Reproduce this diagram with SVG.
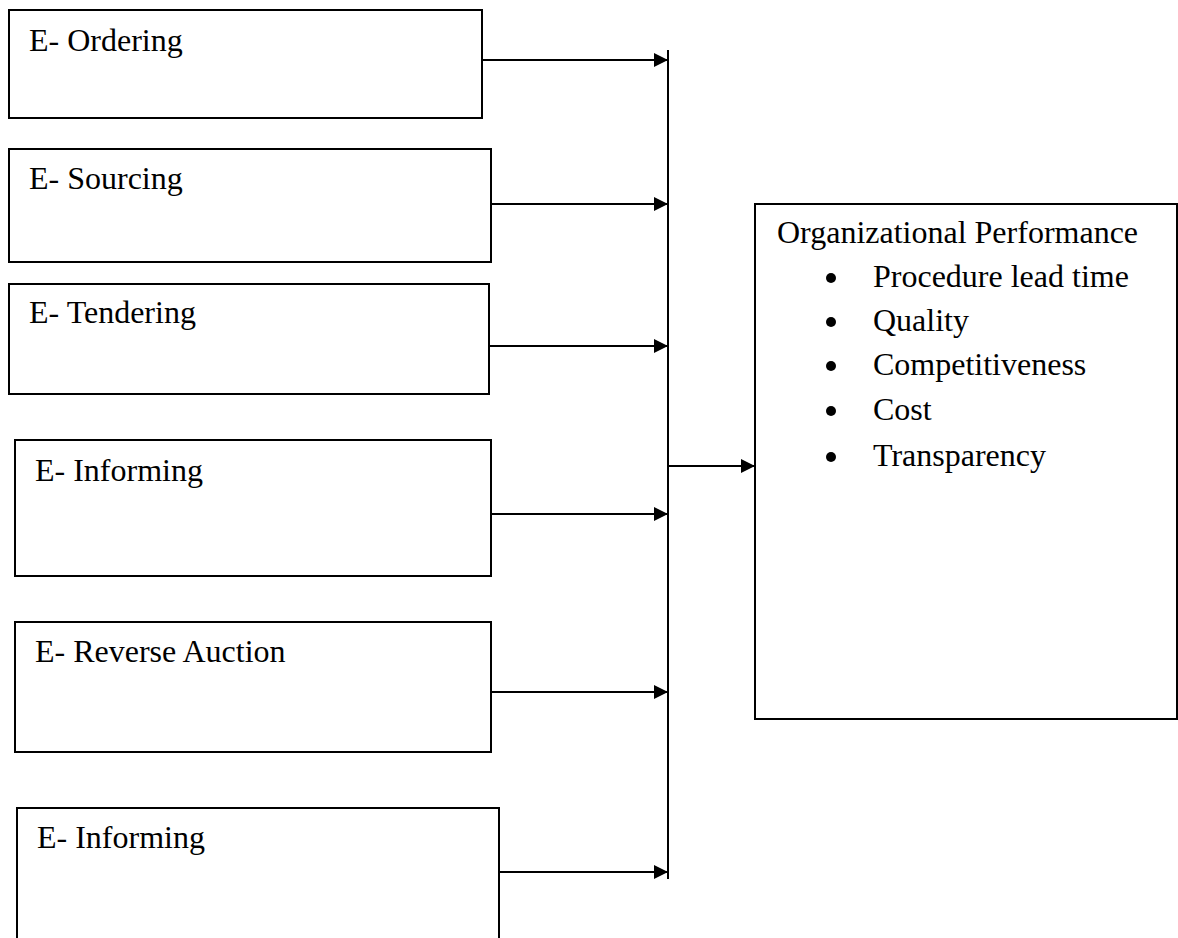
<svg xmlns="http://www.w3.org/2000/svg" width="1178" height="938" viewBox="0 0 1178 938">
  <style>
    .box { fill: #ffffff; stroke: #000000; stroke-width: 2; }
    .lbl { font-family: "Liberation Serif", "Times New Roman", serif; font-size: 32px; fill: #000000; }
    .conn { stroke: #000000; stroke-width: 2; fill: none; }
    .bullet { fill: #000000; }
  </style>
  <defs>
    <marker id="arrow" markerUnits="userSpaceOnUse" markerWidth="15" markerHeight="14" refX="14" refY="7" orient="auto">
      <path d="M0,0 L14,7 L0,14 z" fill="#000000"/>
    </marker>
  </defs>
  <rect width="1178" height="938" fill="#ffffff"/>

  <g id="node-ordering">
    <rect class="box" x="9" y="10" width="473" height="108"/>
    <text class="lbl" x="29" y="51">E- Ordering</text>
  </g>
  <g id="node-sourcing">
    <rect class="box" x="9" y="149" width="482" height="113"/>
    <text class="lbl" x="29" y="189">E- Sourcing</text>
  </g>
  <g id="node-tendering">
    <rect class="box" x="9" y="284" width="480" height="110"/>
    <text class="lbl" x="29" y="323">E- Tendering</text>
  </g>
  <g id="node-informing-1">
    <rect class="box" x="15" y="440" width="476" height="136"/>
    <text class="lbl" x="35" y="481">E- Informing</text>
  </g>
  <g id="node-reverse-auction">
    <rect class="box" x="15" y="622" width="476" height="130"/>
    <text class="lbl" x="35" y="662">E- Reverse Auction</text>
  </g>
  <g id="node-informing-2">
    <rect class="box" x="17" y="808" width="482" height="140"/>
    <text class="lbl" x="37" y="848">E- Informing</text>
  </g>

  <g id="node-performance">
    <rect class="box" x="755" y="204" width="422" height="515"/>
    <text class="lbl" x="777" y="243">Organizational Performance</text>
    <circle class="bullet" cx="831" cy="278" r="5"/>
    <text class="lbl" x="873" y="287">Procedure lead time</text>
    <circle class="bullet" cx="831" cy="322" r="5"/>
    <text class="lbl" x="873" y="331">Quality</text>
    <circle class="bullet" cx="831" cy="366" r="5"/>
    <text class="lbl" x="873" y="375">Competitiveness</text>
    <circle class="bullet" cx="831" cy="411" r="5"/>
    <text class="lbl" x="873" y="420">Cost</text>
    <circle class="bullet" cx="831" cy="457" r="5"/>
    <text class="lbl" x="873" y="466">Transparency</text>
  </g>

  <g id="connectors">
    <line class="conn" x1="668" y1="50" x2="668" y2="879"/>
    <line class="conn" x1="482" y1="60" x2="668" y2="60" marker-end="url(#arrow)"/>
    <line class="conn" x1="491" y1="204" x2="668" y2="204" marker-end="url(#arrow)"/>
    <line class="conn" x1="489" y1="346" x2="668" y2="346" marker-end="url(#arrow)"/>
    <line class="conn" x1="491" y1="514" x2="668" y2="514" marker-end="url(#arrow)"/>
    <line class="conn" x1="491" y1="692" x2="668" y2="692" marker-end="url(#arrow)"/>
    <line class="conn" x1="499" y1="872" x2="668" y2="872" marker-end="url(#arrow)"/>
    <line class="conn" x1="668" y1="466" x2="755" y2="466" marker-end="url(#arrow)"/>
  </g>
</svg>
